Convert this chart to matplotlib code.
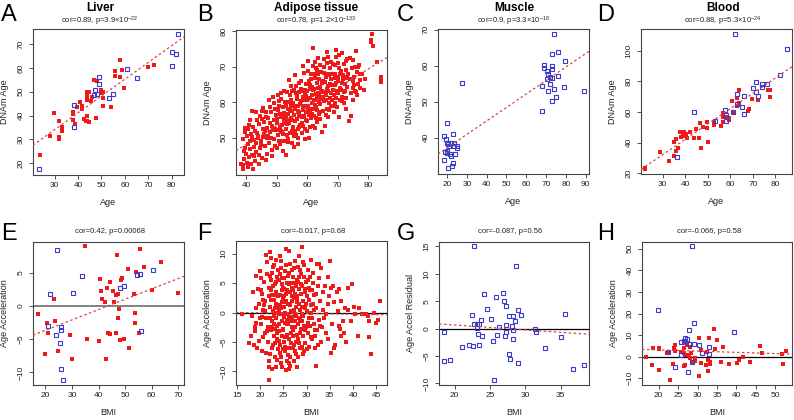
import numpy as np
import matplotlib
matplotlib.use("Agg")
import matplotlib.pyplot as plt

plt.rcParams['font.family'] = ['Liberation Sans', 'DejaVu Sans']
plt.rcParams['mathtext.fontset'] = 'custom'
plt.rcParams['mathtext.rm'] = 'Liberation Sans'
plt.rcParams['mathtext.it'] = 'Liberation Sans:italic'
plt.rcParams['mathtext.bf'] = 'Liberation Sans:bold'

W, H = 794, 420
RED = '#ee1a1a'
BLUE = '#3a3acc'
LINE = '#dd4444'

# ---- A: liver ----
liver_age_red = [23.9, 27.9, 29.7, 31.9, 31.9, 31.9, 32.9, 32.9, 37.9, 37.9, 37.9, 38.7, 39.7, 40.7,
                 41.7, 41.7, 42.7, 43.3, 43.9, 43.9, 43.9, 43.9, 43.9, 44.7, 44.7, 45.7, 46.1, 47.0,
                 47.9, 47.7, 49.7, 50.0, 50.7, 50.7, 50.7, 53.9, 55.7, 55.7, 57.9, 57.9, 58.9, 59.6,
                 69.7, 72.6]
liver_dnam_red = [23.4, 31.5, 41.0, 37.9, 31.2, 30.1, 35.4, 33.7, 41.7, 40.7, 38.2, 36.5, 43.5, 45.5,
                  44.1, 42.7, 38.5, 37.9, 39.9, 37.6, 46.4, 48.3, 50.1, 50.1, 37.4, 46.0, 48.0, 55.0,
                  54.5, 39.1, 49.4, 50.8, 50.1, 47.2, 44.1, 43.5, 58.5, 56.7, 63.1, 56.0, 59.2, 51.6,
                  60.3, 61.2]
liver_age_blue = [23.3, 38.1, 38.1, 49.0, 49.0, 47.1, 47.9, 46.9, 53.0, 55.0, 61.0, 65.0, 80.0, 80.0,
                  81.9, 82.9]
liver_dnam_blue = [17.6, 44.6, 35.4, 56.1, 53.1, 50.8, 49.0, 48.7, 47.5, 49.1, 59.4, 55.6, 66.6, 60.8,
                   65.9, 74.1]

# ---- B: adipose (all red) ----
adipose_pts = [
    (38.5, 42.5), (39, 41.3), (39.2, 44), (39.5, 47), (39, 49.5), (39.8, 51.5), (40, 45.5), (40.2, 43),
    (39.6, 52.8), (40.5, 48.2), (39.3, 46.2), (40.8, 53.5), (40.3, 50.5), (41, 44.5), (39.1, 42.2),
    (41.2, 46.8), (41.5, 51), (41.8, 57.5), (41.3, 49), (42, 45), (42.3, 53), (42.5, 47.5), (42.8, 43.3),
    (42.1, 50.2), (43, 52), (43.2, 48.5), (43.5, 55), (43.8, 49.8), (43.3, 46), (42.7, 44.8), (41.6, 42.7),
    (44, 50.5), (44.2, 53.8), (44.5, 47.2), (44.7, 56.2), (45, 49), (45.2, 44.2), (45.4, 52.5), (45.6, 58.4),
    (45.8, 51), (46, 54.5), (46.2, 47.8), (46.4, 43.8), (45.1, 55.2), (44.3, 45.2), (46.6, 57.3), (46.8, 50),
    (46.1, 52), (47, 52.8), (47.2, 55.5), (47.4, 48.5), (47.6, 60.5), (47.9, 51.5), (48.1, 57.2),
    (48.4, 53.2), (48.6, 46.5), (48.8, 61.5), (49, 55), (49.2, 49.5), (49.4, 58), (49.6, 52.5), (47.8, 54.2),
    (48.2, 49.8), (49.8, 56.3), (50, 47), (50.2, 54), (50.4, 57.8), (50.6, 50.8), (50.8, 60.2), (51, 53),
    (51.2, 48.2), (51.4, 55.8), (51.6, 62.5), (51.8, 51.5), (52, 58.5), (52.2, 46.3), (52.4, 54.8),
    (52.6, 49), (52.8, 60), (50.3, 52.2), (51.1, 56.7), (51.9, 53.5), (52.5, 57), (50.9, 49.2), (52.1, 51),
    (51.5, 61), (53, 52.5), (53.2, 56), (53.4, 62.8), (53.6, 49.5), (53.8, 58.2), (54, 54), (54.2, 66.3),
    (54.4, 51.2), (54.6, 60.5), (54.8, 55.5), (55, 48.5), (55.2, 57.5), (55.4, 53), (55.6, 63.5),
    (55.8, 50.5), (53.1, 59), (53.7, 55), (54.3, 57.8), (54.9, 52), (55.5, 59.8), (53.5, 53.8), (54.5, 62),
    (55.1, 55), (53.9, 48.8), (54.7, 58.8), (55.7, 56.5), (56, 52), (56.2, 58), (56.4, 64.5), (56.6, 55.2),
    (56.8, 60.8), (57, 49.8), (57.2, 57), (57.4, 62.8), (57.6, 53.5), (57.8, 59.5), (58, 66), (58.2, 55.8),
    (58.4, 51.2), (58.6, 61.5), (58.8, 57.8), (56.1, 54.8), (56.7, 61.8), (57.3, 53), (57.9, 63.8),
    (58.5, 58.8), (56.5, 50.8), (57.1, 59), (57.7, 56.2), (58.3, 54), (58.9, 68.2), (56.9, 57.5),
    (57.5, 65.5), (58.1, 60.2), (59, 56), (59.2, 62.5), (59.4, 52.5), (59.6, 65.2), (59.8, 59), (60, 54.8),
    (60.2, 68.8), (60.4, 61), (60.6, 50), (60.8, 57.2), (61, 63.8), (61.2, 55.5), (61.4, 66.5), (61.6, 59.8),
    (61.8, 53.2), (59.1, 58.5), (59.7, 61.8), (60.3, 57.8), (60.9, 64.8), (61.5, 62), (59.5, 55),
    (60.1, 60.5), (60.7, 66), (61.3, 58.2), (61.9, 70.2), (59.3, 63.5), (60.5, 56.5), (61.1, 61.2),
    (61.7, 56.8), (59.9, 52), (62, 75.2), (62.2, 60.5), (62.4, 56), (62.6, 66.8), (62.8, 62.2), (63, 58.5),
    (63.2, 69), (63.4, 54.5), (63.6, 64), (63.8, 60), (64, 66.5), (64.2, 57.2), (64.4, 70.5), (64.6, 62.8),
    (64.8, 51.5), (62.1, 63.5), (62.7, 59.2), (63.3, 65.5), (63.9, 56.8), (64.5, 68.5), (62.5, 71.2),
    (63.1, 61.5), (63.7, 67.8), (64.3, 59.5), (62.9, 55.5), (63.5, 62.5), (64.1, 64.2), (64.7, 60.8),
    (62.3, 68), (63.2, 57.8), (65, 63), (65.2, 57.5), (65.4, 68.2), (65.6, 60.2), (65.8, 53.2), (66, 65.8),
    (66.2, 62), (66.4, 71), (66.6, 58.2), (66.8, 64.5), (67, 55.8), (67.2, 67.5), (67.4, 61.2), (67.6, 69.5),
    (67.8, 59), (65.1, 66), (65.7, 62.8), (66.3, 56.5), (66.9, 63.2), (67.5, 65), (65.5, 72.2), (66.1, 60.5),
    (66.7, 67.8), (67.3, 57.8), (67.9, 62.5), (68, 66.5), (68.2, 60.5), (68.4, 70.8), (68.6, 63.5),
    (68.8, 57.2), (69, 68), (69.2, 64.8), (69.4, 61.2), (69.6, 72.8), (69.8, 58.5), (70, 66), (70.2, 62.5),
    (70.4, 69.5), (70.6, 55.8), (70.8, 64), (68.3, 67.8), (68.9, 62), (69.5, 65.5), (70.1, 71), (70.7, 60.5),
    (69.1, 59.8), (70.3, 67.2), (71, 63.5), (71.2, 68.8), (71.4, 73.8), (71.6, 60.2), (71.8, 66.5),
    (72, 70.8), (72.2, 62.8), (72.4, 65), (72.6, 58), (72.8, 69), (73, 64.2), (73.2, 72), (71.3, 61.5),
    (71.9, 67.5), (72.5, 63.2), (73.1, 66.8), (72.1, 59.8), (72.7, 71.5), (73.8, 54.8), (74, 66.5),
    (74.3, 62.5), (74.6, 69.5), (74.9, 64), (75.2, 71.8), (75.5, 67), (75.8, 63), (76.1, 74.5), (76.4, 68.5),
    (76.7, 65), (77, 70.5), (74.5, 56), (75, 60.5), (76, 62.8), (77.2, 66.2), (76.8, 69.8), (75.4, 64.8),
    (77.4, 64), (80.8, 77.5), (80.9, 77), (81.3, 79.2), (81.5, 75.8), (83, 71.2), (84.2, 67.2), (84.2, 66.5),
    (84.3, 65.7), (78, 68), (79, 66.5), (78.5, 63.5),
    (40.5, 52.5), (41.2, 55), (42.5, 49.3), (43.6, 51.2), (44.8, 48), (45.5, 50.2), (46.5, 55.8),
    (47.3, 50.5), (48, 58.5), (48.9, 52.2), (49.5, 47.8), (50.1, 55.2), (50.7, 58.8), (51.3, 51.8),
    (51.7, 49.2), (52.3, 55.9), (52.9, 54), (53.3, 50.8), (53.9, 56.8), (54.1, 60), (54.9, 63.2),
    (55.3, 51.5), (55.9, 58.8), (56.3, 62.5), (56.9, 52.5), (57.5, 56), (58.2, 63), (58.7, 53.2),
    (59.2, 60.5), (59.6, 57.2), (60, 63), (60.4, 59), (60.8, 53), (61.2, 68), (61.6, 64.2), (62, 58.2),
    (62.4, 63.8), (62.8, 69.5), (63.3, 60.5), (63.6, 72.5), (64, 62), (64.4, 55.2), (64.9, 65.5),
    (65.3, 61.5), (65.6, 69.8), (66.2, 67), (66.6, 63.8), (67.1, 59.8), (67.7, 71.2), (68.1, 64.8),
    (68.5, 58.8), (69, 70.5), (69.3, 66.8), (69.9, 63), (70.5, 73.2), (70.9, 67.8), (71.5, 65.5),
    (72.3, 67), (72.9, 61.2), (73.5, 68), (74.2, 72.5), (75.1, 66), (75.7, 70), (76.3, 62), (77.5, 68),
    (53.2, 45.2), (55.6, 47.3), (57.1, 48.2), (59.4, 49.5), (62.6, 52.8), (48.5, 44.8), (46.9, 45.5),
    (44.1, 42.5), (40.7, 41.8), (42.2, 41.2), (60.2, 71.5), (58.5, 70.2), (56.2, 67.5), (54.8, 64.5),
    (52.5, 63.2), (50.5, 62), (49.1, 59.8), (45.3, 57.5), (43.1, 57.2), (66.5, 74), (69.5, 74.8), (67, 72.8),
]

# ---- C: muscle (all blue) ----
muscle_age = [18.3, 18.5, 19.3, 19.7, 19.1, 19.7, 20.2, 20.2, 20.5, 20.5, 20.8, 21.3, 22.2, 22.2, 22.5,
              23.2, 23.2, 23.4, 23.5, 24.2, 25.2, 25.2, 27.3,
              68.1, 68.1, 69.1, 69.1, 70.3, 70.3, 71.1, 71.1, 72.0, 72.1, 72.8, 72.8, 72.8, 72.8, 73.1,
              74.1, 74.1, 75.0, 75.8, 75.8, 79.2, 79.5, 89.1]
muscle_dnam = [33.7, 40.5, 39.5, 38.6, 36.1, 35.6, 44.0, 36.3, 38.3, 31.5, 37.6, 35.5, 34.9, 38.6, 32.2,
               41.1, 32.9, 38.4, 37.6, 35.5, 37.7, 37.1, 55.2,
               47.5, 54.4, 60.1, 59.4, 58.4, 56.4, 57.7, 53.0, 55.0, 56.8, 63.3, 59.9, 59.0, 50.2, 56.6,
               68.7, 53.5, 51.3, 63.7, 57.2, 54.2, 61.4, 53.1]

# ---- D: blood ----
blood_age_red = [22.2, 22.2, 29.0, 33.0, 34.9, 35.1, 36.0, 36.0, 36.8, 37.9, 38.3, 38.9, 39.3, 39.8, 40.4,
                 40.8, 42.3, 43.8, 44.8, 46.0, 46.7, 46.9, 47.8, 49.7, 49.7, 50.0, 52.8, 52.8, 55.7, 56.6,
                 56.6, 56.6, 58.5, 59.3, 59.6, 60.8, 61.8, 62.8, 62.8, 63.7, 63.7, 67.8, 68.5, 69.5, 72.5,
                 76.6, 77.6, 77.6]
blood_dnam_red = [23.7, 22.6, 34.2, 28.3, 31.3, 40.3, 42.2, 34.8, 36.3, 47.2, 44.0, 45.8, 47.2, 44.4, 45.8,
                  42.9, 47.2, 42.9, 49.0, 43.3, 52.7, 36.8, 50.1, 49.8, 53.6, 40.7, 51.6, 53.6, 50.9, 59.2,
                  56.6, 53.8, 56.6, 54.9, 56.0, 67.5, 59.2, 69.2, 64.0, 74.4, 65.8, 61.0, 61.8, 68.6, 67.9,
                  74.4, 74.4, 70.0]
blood_age_blue = [36.2, 44.1, 53.1, 57.8, 58.0, 58.3, 61.1, 62.0, 63.0, 63.0, 65.0, 66.2, 66.2, 70.1, 71.3,
                  71.3, 72.2, 74.3, 74.3, 76.2, 82.2, 85.2]
blood_dnam_blue = [30.9, 59.9, 54.4, 61.4, 58.1, 54.4, 60.3, 110.8, 71.9, 65.3, 63.1, 70.5, 58.8, 75.6, 79.9,
                   73.4, 70.5, 78.2, 76.2, 78.2, 84.3, 101.3]

# ---- E: liver vs BMI ----
liver_bmi_red = [17.2, 20.5, 20.9, 20.0, 23.1, 23.5, 24.8, 29.2, 30.2, 35.1, 35.7, 40.1, 40.6, 40.9, 41.4,
                 42.3, 42.7, 43.2, 43.4, 44.2, 44.2, 45.4, 45.8, 46.4, 46.7, 46.9, 47.2, 47.4, 47.7, 48.2,
                 48.5, 48.9, 49.4, 51.1, 51.4, 53.3, 53.6, 53.8, 53.9, 55.3, 55.5, 57.2, 60.0, 63.6, 69.8]
liver_acc_red = [-1.15, -2.65, -4.05, -7.3, 1.1, -2.25, -6.8, -4.4, -8.0, 8.95, -5.05, -5.3, 4.0, 2.2, 1.1,
                 0.6, -8.0, 2.7, -4.15, 3.6, -4.3, 2.25, 0.6, 1.6, -4.15, 7.6, 1.85, -1.9, -0.4, -5.15,
                 3.85, 4.2, -5.05, 5.6, -6.3, 1.85, -1.05, -2.65, 5.1, -4.15, 8.6, 5.85, 2.45, 6.6, 1.95]
liver_bmi_blue = [20.9, 21.9, 24.2, 24.4, 25.4, 25.8, 26.1, 25.8, 26.7, 30.4, 33.7, 48.0, 49.4, 54.6, 55.5,
                  56.1, 60.5]
liver_acc_blue = [-3.05, 1.75, -4.4, 8.45, -5.55, -3.15, -3.65, -9.5, -11.15, 1.95, 4.5, 2.7, 2.95, 4.6,
                  4.75, -3.75, 5.35]

# ---- F: adipose vs BMI (all red) ----
adipose_bmi_pts = [
    (16, -0.3), (17.5, -5.2), (18, -4), (18.3, -0.6), (18.5, 3.5), (18.8, -3.2), (19, 6.2), (19.2, -1.8),
    (19.5, 4), (19.7, -4.8), (19.8, 1.5), (18.9, -2.5), (20, 7), (20.2, -2), (20.3, 3.2), (20.5, -6.5),
    (20.6, 0.5), (20.8, 5.2), (21, -3.5), (21.1, 2), (21.3, -1), (21.5, 8.5), (21.6, -5), (21.8, 4.2),
    (20.4, -0.8), (20.9, 1.2), (21.2, -6.8), (21.7, -2.5), (20.1, 3.8), (21.4, 6.5), (22, -11.5),
    (22, -9.2), (22.1, 10.3), (22.2, 1), (22.3, -3), (22.4, 5.5), (22.5, -1.5), (22.6, 3), (22.7, -5.5),
    (22.8, 7.8), (22.9, -0.5), (22.2, -7), (22.4, 2.2), (22.6, -2.5), (22.8, 4.5), (22.3, 9.2), (22.7, 0.2),
    (22.9, -4), (22.1, 6.2), (22.5, -6), (23, 8), (23.1, -2.8), (23.2, 4.8), (23.3, -7.5), (23.4, 1.5),
    (23.5, -1), (23.6, 6), (23.7, -4.5), (23.8, 2.8), (23.9, -6.2), (23.15, 0), (23.35, 3.5), (23.55, -3.5),
    (23.75, 7.2), (23.95, -0.2), (23.25, -5.2), (23.45, 5.2), (23.65, -8), (23.85, 1), (23.05, 2.2),
    (23.5, 9), (24, -2), (24.1, 5.5), (24.2, -6.8), (24.3, 3), (24.4, 0.8), (24.5, 7.5), (24.6, -4),
    (24.7, 1.8), (24.8, -1.5), (24.9, 4.2), (24.15, -3.2), (24.35, 6.5), (24.55, -7.5), (24.75, -0.3),
    (24.95, 2.5), (24.25, -5.5), (24.45, 8.8), (24.65, 3.8), (24.85, -2.8), (24.05, 0.5), (24.5, -8.5),
    (24.8, 5.8), (25, -3), (25.1, 4), (25.2, -0.8), (25.3, 7), (25.4, -5.8), (25.5, 2), (25.6, 10.8),
    (25.7, -2), (25.8, 5), (25.9, -7.2), (25.15, 1), (25.35, -4.2), (25.55, 3.2), (25.75, -1.2),
    (25.95, 6.2), (25.25, -6.5), (25.45, 0), (25.65, 8), (25.85, -3.8), (25.05, 2.8), (25.6, -9.8),
    (25.3, -1.8), (26, 1.5), (26.1, -4.5), (26.2, 6.8), (26.3, -1), (26.4, 3.5), (26.5, -7.5), (26.6, 0.2),
    (26.7, 5), (26.8, -2.5), (26.9, 2), (26.15, -6), (26.35, 8.2), (26.55, -3.5), (26.75, 4.2),
    (26.95, -0.8), (26.25, -9.5), (26.45, 1.2), (26.65, -5.2), (26.85, 7.2), (26.05, -2), (26.5, -9),
    (27, -3), (27.1, 6), (27.2, 0.5), (27.3, -5.5), (27.4, 3.2), (27.5, 8.8), (27.6, -1.5), (27.7, 4.5),
    (27.8, -7), (27.9, 1.8), (27.15, -4), (27.35, 2.5), (27.55, -6.5), (27.75, -0.5), (27.95, 5.5),
    (27.25, 7.5), (27.45, -2.5), (27.65, 1), (27.85, -3.8), (27.05, 3.8), (28, 2.5), (28.1, -4.5),
    (28.2, 7.8), (28.3, -1), (28.4, 4), (28.5, -6), (28.6, 0.5), (28.7, 6.5), (28.8, -2.8), (28.9, 11.2),
    (28.15, -7.5), (28.35, 1.5), (28.55, -3.5), (28.75, 3.2), (28.95, -0.2), (28.25, 5.2), (28.45, -5.2),
    (28.65, 7.2), (29, -1.5), (29.1, 4.5), (29.2, -4), (29.3, 2), (29.4, 6), (29.5, -6.5), (29.6, 0.8),
    (29.7, 3.5), (29.8, -2.5), (29.9, 5.2), (29.25, -0.5), (29.45, 8), (29.65, -3), (29.85, 1.5),
    (29.15, -7), (30, 2.8), (30.2, -3.5), (30.4, 5.5), (30.5, -1), (30.6, -5.8), (30.8, 3.8), (31, 0),
    (30.3, 7.2), (30.7, -2.2), (30.9, 1.2), (30.1, -6.2), (30.55, 4.2), (31.2, -4.5), (31.4, 6.8),
    (31.5, -2), (31.6, 3), (31.8, -6), (32, 0.8), (32.1, -9), (32.2, 8.2), (32.3, -3), (32.5, 4.5),
    (32.6, -1.2), (32.8, 2), (31.3, 1.5), (31.9, -4), (32.7, 5.8), (31.1, 3.8), (33, -5), (33.2, 7.5),
    (33.4, -2.5), (33.6, 3.5), (33.8, -1), (34, 4.5), (34.2, -3.5), (34.5, 1.5), (34.7, -4.5), (35, 8.8),
    (35.2, 4.2), (35.3, -6.8), (35.5, -2), (35.8, -6), (34.8, 2.8), (33.5, 0.5), (35.6, 4.5), (36.2, -5.5),
    (36.5, 3.5), (36.8, 0.2), (37, 4), (37.5, -4), (37.8, -1.5), (38, -3.5), (38.2, 0.8), (38.5, -5),
    (39, 4.2), (39.5, -1.5), (39.8, 4.8), (36.9, -2.2), (37.3, 2), (38.8, 0.5), (40.2, 1), (40.5, -0.2),
    (41, -4), (41.2, 0.8), (42.8, -0.2), (43.2, -0.5), (43.5, -4.2), (43.8, -7), (44.5, 0), (45, -1.8),
    (45.3, -1.2), (45.8, 2), (43.5, -1.5), (42, -0.3),
    (20.2, 5.8), (20.7, -4.2), (21.2, 9.8), (21.9, -8.2), (22.05, -1), (22.35, 3.8), (22.65, 6.8),
    (22.95, -2), (23.1, 0.8), (23.3, 3), (23.6, -2.2), (23.8, 5.5), (24.1, -4.8), (24.3, 1.2), (24.6, 4.8),
    (24.9, -6.2), (25.05, -5), (25.2, 5.8), (25.4, 1.8), (25.7, 3.8), (25.9, -0.2), (26.1, -8.5),
    (26.3, 4.8), (26.6, -1.5), (26.8, 2.8), (27.05, -6), (27.3, 5), (27.5, -0.2), (27.7, -5), (27.9, 2.8),
    (28.05, -2), (28.3, 6), (28.5, -1.2), (28.8, 4.8), (28.95, -5.8), (29.05, 1), (29.35, -2.2),
    (29.55, 4), (29.75, -5.2), (30.05, 0.2), (30.25, -1.8), (30.45, 2.2), (30.65, 6), (30.85, -4.2),
    (31.05, -1), (31.35, 5), (31.55, 0.5), (31.75, -3), (32.05, 3.2), (32.4, -5.5), (32.9, -2.2),
    (21.05, 0.2), (21.45, -3.2), (21.85, 2.8), (20.55, 2.2), (19.4, -6), (19.9, -1), (19.1, 0.8),
    (18.6, -5.5), (24.2, 9.6), (26.3, 10.5), (28.4, 9.6), (22.6, -9.6), (24.7, -9.2), (27.2, -8.2),
    (23.4, -9.2), (25.8, -8.3), (27.9, -9.3), (29.2, 8.5), (30.9, 9), (32.6, 8.2), (34.1, -0.2),
    (34.6, 6), (36, 1.8), (37.2, -2.8),
]

# ---- G: muscle vs BMI (all blue) ----
muscle_bmi = [18.5, 18.5, 19.4, 21.0, 22.1, 22.4, 22.6, 22.7, 22.7, 23.1, 23.2, 23.3, 23.4, 23.5, 23.8,
              23.9, 24.1, 24.6, 25.1, 25.5, 25.8, 26.0, 26.3, 26.8, 27.0, 27.1, 27.2, 27.2, 27.2, 27.7,
              27.7, 27.8, 28.1, 28.2, 28.3, 28.3, 28.5, 28.7, 28.9, 28.9, 29.4, 31.4, 31.5, 32.8, 25.6,
              35.1, 35.6, 36.7, 38.3]
muscle_resid = [-0.67, -5.9, -5.8, -3.3, -3.0, 2.4, -3.2, 0.8, 15.0, 0.8, 0.1, -1.0, -3.0, 0.9, 1.5,
                -1.4, 6.25, 3.6, 1.7, -2.25, 5.8, -1.2, 0.3, 6.55, 5.0, -1.3, 0.6, 4.1, -0.67, 2.25,
                -4.7, -5.5, 0.4, 2.25, -0.3, -1.9, 1.3, 11.35, 3.3, -6.2, 2.55, -0.1, -0.67, -3.5, -9.4,
                -1.5, 2.6, -7.4, -6.6]

# ---- H: blood vs BMI ----
blood_bmi_red = [16.8, 18.3, 18.5, 20.0, 20.0, 20.0, 22.1, 22.6, 22.8, 23.6, 24.0, 24.1, 24.3, 25.8, 26.4,
                 26.4, 26.6, 26.8, 26.8, 27.0, 27.3, 27.7, 28.1, 28.1, 28.2, 28.7, 29.3, 29.4, 30.3, 30.4,
                 30.9, 30.9, 32.2, 32.4, 32.6, 32.8, 33.0, 33.2, 33.2, 34.3, 34.5, 35.0, 36.1, 36.5, 38.0,
                 40.1, 40.6, 41.6, 43.4, 46.0, 46.6, 51.7, 51.9, 52.7]
blood_acc_red = [-0.15, -4.0, 4.15, 3.85, -6.3, 3.4, 1.85, 2.3, -10.8, -3.4, 3.85, 2.5, 5.4, 2.3, 1.85,
                 -4.3, 4.15, -3.85, 6.45, 0.75, 5.4, 0.75, 4.6, -0.75, 1.85, -2.3, -0.75, -1.85, 8.45, -8.9,
                 3.1, -3.1, -3.85, 2.3, -6.8, -1.5, 8.45, -3.4, -2.3, 12.9, 3.4, 7.7, -2.3, 4.6, -3.4,
                 -2.8, -1.5, 0.0, -2.6, 5.1, 1.85, 1.2, -3.4, 2.6]
blood_bmi_blue = [19.7, 22.4, 24.3, 25.8, 25.8, 26.4, 26.8, 27.3, 27.5, 27.7, 27.9, 28.6, 28.6, 29.2, 29.2,
                  30.4, 31.1, 33.0, 33.0, 39.5]
blood_acc_blue = [21.85, 2.3, -4.6, 6.9, 0.6, 7.4, 8.45, 8.0, -6.9, 5.85, 12.3, 51.1, -2.3, 15.4, 5.85,
                  5.4, 1.85, 4.6, 1.2, 11.5]

# fitted lines (intercept, slope)
fit_lines = {'A': (13.0, 0.704), 'B': (26.9, 0.53), 'C': (29.7, 0.374), 'D': (2.2, 1.0),
             'E': (-6.8, 0.156), 'F': (0.2, -0.012), 'G': (2.43, -0.089), 'H': (4.3, -0.057)}

titles = ['Liver', 'Adipose tissue', 'Muscle', 'Blood', '', '', '', '']
subtitles = [r'cor=0.89, p=3.9$\times10^{-22}$', r'cor=0.78, p=1.2$\times10^{-133}$',
             r'cor=0.9, p=3.3$\times10^{-18}$', r'cor=0.88, p=5.3$\times10^{-24}$',
             'cor=0.42, p=0.00068', 'cor=-0.017, p=0.68', 'cor=-0.087, p=0.56',
             'cor=-0.066, p=0.58']
letters = ['A', 'B', 'C', 'D', 'E', 'F', 'G', 'H']
ylabels = ['DNAm Age'] * 4 + ['Age Acceleration', 'Age Acceleration', 'Age Accel Residual',
                              'Age Acceleration']
xlabels = ['Age'] * 4 + ['BMI'] * 4

# layout in pixels: left, top, right, bottom
boxes = [(33, 29, 184, 175), (236, 30, 387, 175), (438, 29, 589, 174), (641, 29, 792, 174),
         (33, 242, 184, 385), (236, 241, 387, 385), (439, 242, 589, 385), (642, 242, 792, 385)]
title_x = [100, 316, 514, 723, 110, 313, 510, 709]
letter_x = [1, 197, 397, 597]

lims = [((20.7, 85.3), (15.1, 76.3)), ((36.7, 86.2), (39.5, 80.3)), ((15.4, 91.7), (29.9, 70.2)),
        ((20.4, 87.4), (19.6, 114.2)), ((15.4, 72.1), (-11.9, 9.6)), ((14.8, 47.3), (-12.3, 12.15)),
        ((17.8, 39.0), (-10.3, 15.8)), ((15.7, 54.3), (-13.1, 53.1))]
ticks = [(range(30, 81, 10), range(20, 71, 10)), (range(40, 81, 10), range(50, 81, 10)),
         (range(20, 91, 10), range(40, 71, 10)), (range(30, 81, 10), range(20, 101, 20)),
         (range(20, 71, 10), range(-10, 6, 5)), (range(15, 46, 5), range(-10, 11, 5)),
         (range(20, 36, 5), range(-10, 16, 5)), (range(20, 51, 5), range(-10, 51, 10))]

ad = np.array(adipose_pts)
af = np.array(adipose_bmi_pts)
red_sets = [(liver_age_red, liver_dnam_red), (ad[:, 0], ad[:, 1]), None, (blood_age_red, blood_dnam_red),
            (liver_bmi_red, liver_acc_red), (af[:, 0], af[:, 1]), None, (blood_bmi_red, blood_acc_red)]
blue_sets = [(liver_age_blue, liver_dnam_blue), None, (muscle_age, muscle_dnam),
             (blood_age_blue, blood_dnam_blue), (liver_bmi_blue, liver_acc_blue), None,
             (muscle_bmi, muscle_resid), (blood_bmi_blue, blood_acc_blue)]

fig = plt.figure(figsize=(W / 100, H / 100), dpi=100)

for i in range(8):
    l, t, r, b = boxes[i]
    ax = fig.add_axes([l / W, 1 - b / H, (r - l) / W, (b - t) / H])
    xl, yl = lims[i]
    if i >= 4:
        if i == 4:
            ax.axhline(0, color='#777777', lw=1.3, zorder=1)
        else:
            ax.axhline(0, color='black', lw=0.9, zorder=1)
    if red_sets[i] is not None:
        ax.plot(red_sets[i][0], red_sets[i][1], 's', color=RED, ms=3.3, mew=0, zorder=2)
    if blue_sets[i] is not None:
        ax.plot(blue_sets[i][0], blue_sets[i][1], 's', mfc='none', mec=BLUE, ms=3.4, mew=0.8, zorder=3)
    icpt, slope = fit_lines[letters[i]]
    xx = np.array(xl)
    ax.plot(xx, icpt + slope * xx, color=LINE, lw=0.9, ls=(0, (2, 2)), zorder=4)
    ax.set_xlim(xl)
    ax.set_ylim(yl)
    ax.set_xticks(list(ticks[i][0]))
    ax.set_yticks(list(ticks[i][1]))
    ax.tick_params(direction='out', length=3, width=0.6, color='#333333', labelsize=6,
                   labelcolor='#222222', pad=2)
    ax.tick_params(axis='y', labelrotation=90, pad=3)
    for lab in ax.get_yticklabels():
        lab.set_va('center')
    for s in ax.spines.values():
        s.set_color('#444444')
        s.set_linewidth(0.8)
    ax.set_xlabel(xlabels[i], fontsize=6.5, color='#222222')
    ax.xaxis.set_label_coords(0.5, -23 / (b - t))
    ax.set_ylabel(ylabels[i], fontsize=6.5, color='#222222')
    ax.yaxis.set_label_coords(-24 / (r - l), 0.5)

    row_off = 0 if i < 4 else 210
    if titles[i]:
        fig.text(title_x[i] / W, 1 - 11 / H, titles[i], fontsize=8.5, fontweight='bold',
                 ha='center', va='baseline')
    fig.text(title_x[i] / W, 1 - (23 + row_off) / H, subtitles[i], fontsize=5.5, ha='center',
             va='baseline', color='#222222')
    fig.text(letter_x[i % 4] / W, 1 - (21 + row_off + (9 if i >= 4 else 0)) / H, letters[i],
             fontsize=17, ha='left', va='baseline')

fig.savefig('out.png', dpi=100)
